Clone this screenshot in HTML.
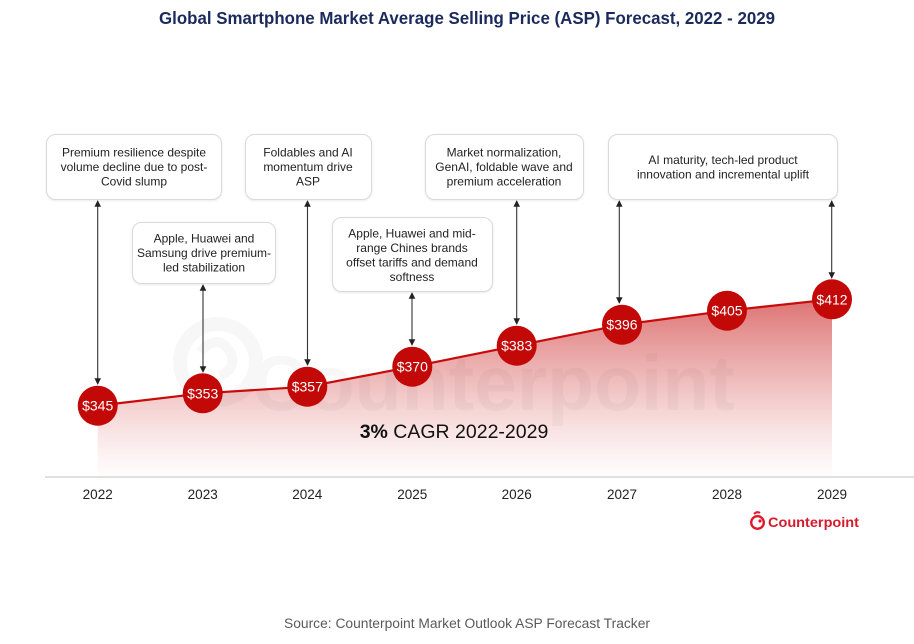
<!DOCTYPE html>
<html><head><meta charset="utf-8">
<style>
html,body{margin:0;padding:0;background:#fff;}
svg{display:block;}
</style></head>
<body>
<svg width="914" height="644" viewBox="0 0 914 644" xmlns="http://www.w3.org/2000/svg" font-family="'Liberation Sans', Arial, sans-serif">
<defs>
<linearGradient id="fillg" x1="0" y1="295" x2="0" y2="475" gradientUnits="userSpaceOnUse">
<stop offset="0" stop-color="#cc2a2a" stop-opacity="0.68"/>
<stop offset="0.5" stop-color="#d44a4a" stop-opacity="0.35"/>
<stop offset="1" stop-color="#e88080" stop-opacity="0.02"/>
</linearGradient>
<marker id="ah" viewBox="0 0 8 8" refX="7" refY="4" markerWidth="6" markerHeight="6" orient="auto-start-reverse">
<path d="M0,0 L8,4 L0,8 z" fill="#222"/>
</marker>
<filter id="sh" x="-5%" y="-5%" width="110%" height="120%">
<feDropShadow dx="0" dy="1" stdDeviation="1" flood-color="#000" flood-opacity="0.08"/>
</filter>
</defs>

<!-- Title -->
<text x="467" y="24" text-anchor="middle" font-family="'Liberation Sans', sans-serif" font-weight="bold" font-size="17.5" fill="#1b2a5c" textLength="616" lengthAdjust="spacingAndGlyphs">Global Smartphone Market Average Selling Price (ASP) Forecast, 2022 - 2029</text>

<!-- Fill area -->
<path d="M97.7,405.7 L202.7,393.3 L307.3,386.7 L412.3,366.7 L516.7,345.7 L622,324.7 L727,310.7 L832,299.3 L832,476 L97.7,476 Z" fill="url(#fillg)"/>

<!-- Watermark -->
<g opacity="0.028">
<circle cx="218" cy="362" r="38" fill="none" stroke="#000" stroke-width="14"/>
<path d="M200,352 q18,-20 30,0 q8,16 -10,24" fill="none" stroke="#000" stroke-width="10"/>
<text x="252" y="410" font-weight="bold" font-size="78" fill="#000" textLength="483" lengthAdjust="spacingAndGlyphs">Counterpoint</text>
</g>

<!-- Axis line -->
<line x1="45" y1="477" x2="914" y2="477" stroke="#e0e0e0" stroke-width="2"/>

<!-- Year labels -->
<g font-size="13.5" fill="#222" text-anchor="middle">
<text x="97.7" y="499">2022</text>
<text x="202.7" y="499">2023</text>
<text x="307.3" y="499">2024</text>
<text x="412.3" y="499">2025</text>
<text x="516.7" y="499">2026</text>
<text x="622" y="499">2027</text>
<text x="727" y="499">2028</text>
<text x="832" y="499">2029</text>
</g>

<!-- CAGR -->
<text x="454" y="438" text-anchor="middle" font-size="19.5" fill="#111"><tspan font-weight="bold">3%</tspan> CAGR 2022-2029</text>

<!-- Boxes -->
<g fill="#fff" stroke="#d9d9d9" stroke-width="1" filter="url(#sh)">
<rect x="46.5" y="134.5" width="175" height="65" rx="9"/>
<rect x="132.5" y="222.5" width="143" height="61" rx="9"/>
<rect x="245.5" y="134.5" width="126" height="65" rx="9"/>
<rect x="332.5" y="217.5" width="160" height="74" rx="9"/>
<rect x="425.5" y="134.5" width="158" height="65" rx="9"/>
<rect x="608.5" y="134.5" width="229" height="65" rx="9"/>
</g>

<g font-size="12" fill="#222" text-anchor="middle">
<text x="134" y="156.5">Premium resilience despite</text>
<text x="134" y="171">volume decline due to post-</text>
<text x="134" y="185.5">Covid slump</text>

<text x="204" y="242.5">Apple, Huawei and</text>
<text x="204" y="257">Samsung drive premium-</text>
<text x="204" y="271.5">led stabilization</text>

<text x="308" y="156.5">Foldables and AI</text>
<text x="308" y="171">momentum drive</text>
<text x="308" y="185.5">ASP</text>

<text x="412" y="237.5">Apple, Huawei and mid-</text>
<text x="412" y="252">range Chines brands</text>
<text x="412" y="266.5">offset tariffs and demand</text>
<text x="412" y="281">softness</text>

<text x="504" y="156.5">Market normalization,</text>
<text x="504" y="171">GenAI, foldable wave and</text>
<text x="504" y="185.5">premium acceleration</text>

<text x="723" y="164">AI maturity, tech-led product</text>
<text x="723" y="178.5">innovation and incremental uplift</text>
</g>

<!-- Arrows -->
<g stroke="#333" stroke-width="1.1" marker-start="url(#ah)" marker-end="url(#ah)">
<line x1="97.7" y1="201" x2="97.7" y2="384"/>
<line x1="203" y1="285" x2="203" y2="372"/>
<line x1="307.5" y1="201" x2="307.5" y2="365"/>
<line x1="412" y1="293" x2="412" y2="345"/>
<line x1="516.7" y1="201" x2="516.7" y2="324"/>
<line x1="619.3" y1="201" x2="619.3" y2="303"/>
<line x1="831.7" y1="201" x2="831.7" y2="278"/>
</g>

<!-- Line -->
<polyline points="97.7,405.7 202.7,393.3 307.3,386.7 412.3,366.7 516.7,345.7 622,324.7 727,310.7 832,299.3" fill="none" stroke="#c80a0a" stroke-width="2.2"/>

<!-- Circles -->
<g fill="#c30808">
<circle cx="97.7" cy="405.7" r="20"/>
<circle cx="202.7" cy="393.3" r="20"/>
<circle cx="307.3" cy="386.7" r="20"/>
<circle cx="412.3" cy="366.7" r="20"/>
<circle cx="516.7" cy="345.7" r="20"/>
<circle cx="622" cy="324.7" r="20"/>
<circle cx="727" cy="310.7" r="20"/>
<circle cx="832" cy="299.3" r="20"/>
</g>
<g font-size="14" fill="#fff" text-anchor="middle">
<text x="97.7" y="410.7">$345</text>
<text x="202.7" y="398.3">$353</text>
<text x="307.3" y="391.7">$357</text>
<text x="412.3" y="371.7">$370</text>
<text x="516.7" y="350.7">$383</text>
<text x="622" y="329.7">$396</text>
<text x="727" y="315.7">$405</text>
<text x="832" y="304.3">$412</text>
</g>

<!-- Logo -->
<g>
<circle cx="757.5" cy="522.5" r="6.3" fill="none" stroke="#e0192b" stroke-width="2.4"/>
<circle cx="760" cy="521" r="1.6" fill="#e0192b"/>
<path d="M754,514 q3,-3 6,-1" fill="none" stroke="#e0192b" stroke-width="2"/>
<text x="768" y="527" font-weight="bold" font-size="13.5" fill="#d51a2b" textLength="91" lengthAdjust="spacingAndGlyphs">Counterpoint</text>
</g>

<!-- Source -->
<text x="467" y="628" text-anchor="middle" font-size="13.5" fill="#5a5a5a" textLength="366" lengthAdjust="spacingAndGlyphs">Source: Counterpoint Market Outlook ASP Forecast Tracker</text>
</svg>
</body></html>
